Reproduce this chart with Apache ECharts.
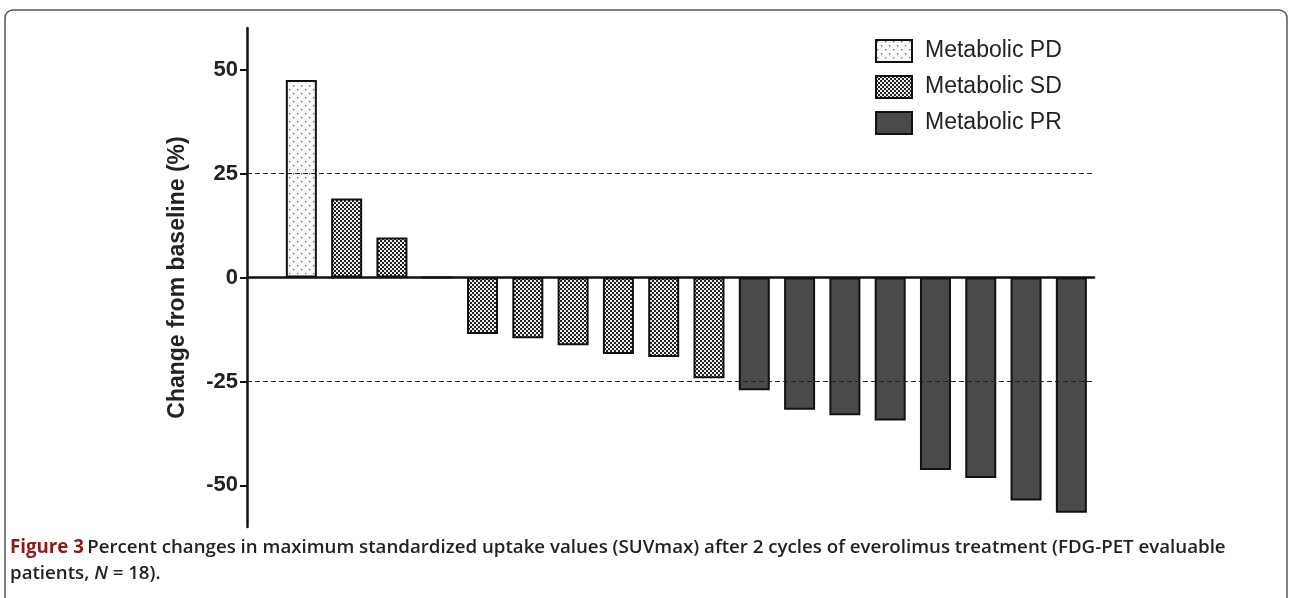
<!DOCTYPE html>
<html><head><meta charset="utf-8">
<script src="https://cdn.jsdelivr.net/npm/echarts@6/dist/echarts.min.js"></script>
<style>html,body{margin:0;background:#fff}#c{width:1292px;height:598px}</style>
</head><body><div id="c"></div>
<script>
const pdValues = [47.5]
const sdValues = [19, 9.6, 0, -13.6, -14.6, -16.3, -18.4, -19.1, -24.2]
const prValues = [-27.1, -31.8, -33.1, -34.4, -46.3, -48.2, -53.6, -56.6]
const yTicks = [-50, -25, 0, 25, 50]
const cutoffs = [25, -25]

function pattern(draw, s) {
  const c = document.createElement('canvas')
  c.width = s; c.height = s
  draw(c.getContext('2d'))
  return { image: c, repeat: 'repeat' }
}
const dots = pattern(g => {
  g.fillStyle = '#fafafa'; g.fillRect(0, 0, 8, 8)
  g.fillStyle = '#777'; g.fillRect(1, 1, 1.4, 1.4); g.fillRect(5, 5, 1.4, 1.4)
}, 8)
const checker = pattern(g => {
  g.fillStyle = '#eee'; g.fillRect(0, 0, 4, 4)
  g.fillStyle = '#222'; g.fillRect(0, 0, 2, 2); g.fillRect(2, 2, 2, 2)
}, 4)

let idx = 1
const pd = pdValues.map(v => [idx++, v])
const sd = sdValues.map(v => [idx++, v])
const pr = prValues.map(v => [idx++, v])

const border = { borderColor: '#111', borderWidth: 2 }
const chart = echarts.init(document.getElementById('c'))
chart.setOption({
  animation: false,
  graphic: [{ type: 'rect', shape: { x: 5, y: 10, width: 1282, height: 640, r: 8 },
    style: { fill: 'none', stroke: '#555', lineWidth: 1.5 }, silent: true },
  { type: 'text', left: 10, top: 535, style: {
      text: '{b|Figure 3} {n|Percent changes in maximum standardized uptake values (SUVmax) after 2 cycles of everolimus treatment (FDG-PET evaluable}\n{n|patients, }{i|N}{n| = 18).}',
      rich: { b: { fontFamily: 'Open Sans', fontWeight: 'bold', fontSize: 18.7, fill: '#8b1a1a' },
        n: { fontFamily: 'Open Sans', fontWeight: 600, fontSize: 18.7, fill: '#222' },
        i: { fontFamily: 'Open Sans', fontWeight: 600, fontStyle: 'italic', fontSize: 18.7, fill: '#222' } },
      lineHeight: 26 } }],
  grid: { left: 247, right: 198, top: 28, bottom: 71 },
  legend: {
    orient: 'vertical', left: 870, top: 34, icon: 'rect', itemWidth: 36, itemGap: 12, itemHeight: 22,
    textStyle: { fontFamily: 'Liberation Sans', fontSize: 23, color: '#222', padding: [0, 0, 0, 8] },
    data: ['Metabolic PD', 'Metabolic SD', 'Metabolic PR']
  },
  xAxis: { type: 'value', min: -0.2, max: 18.5, splitLine: { show: false },
    axisLine: { onZero: true, lineStyle: { color: '#111', width: 2.5 } },
    axisTick: { show: false }, axisLabel: { show: false } },
  yAxis: { type: 'value', min: -60, max: 60,
    name: 'Change from baseline (%)', nameLocation: 'middle', nameGap: 58,
    nameTextStyle: { fontFamily: 'Liberation Sans', fontWeight: 'bold', fontSize: 23, color: '#222' },
    splitLine: { show: false },
    axisLine: { show: true, onZero: false, lineStyle: { color: '#111', width: 2.5 } },
    axisTick: { show: true, customValues: yTicks, length: 7, lineStyle: { color: '#111', width: 2 } },
    axisLabel: { customValues: yTicks, fontFamily: 'Liberation Sans', fontWeight: 'bold', fontSize: 22, color: '#222', margin: 9 } },
  series: [
    { name: 'Metabolic PD', type: 'bar', barWidth: 31, barGap: '-100%', data: pd,
      itemStyle: Object.assign({ color: dots }, border),
      markLine: { symbol: 'none', silent: true, label: { show: false },
        lineStyle: { color: '#222', type: [5, 3], width: 1 },
        data: cutoffs.map(v => ({ yAxis: v })) } },
    { name: 'Metabolic SD', type: 'bar', barWidth: 31, barGap: '-100%', data: sd,
      itemStyle: Object.assign({ color: checker }, border) },
    { name: 'Metabolic PR', type: 'bar', barWidth: 31, barGap: '-100%', data: pr,
      itemStyle: Object.assign({ color: '#4a4a4a' }, border) }
  ]
})
</script></body></html>
